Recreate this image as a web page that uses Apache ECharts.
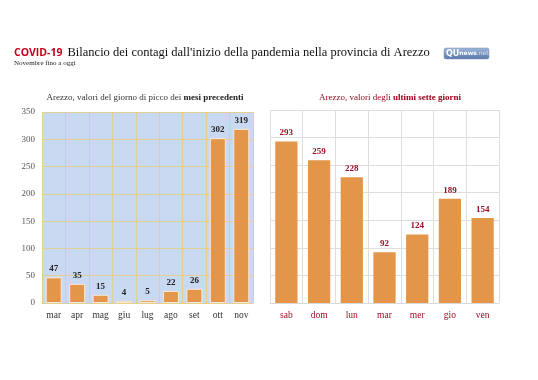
<!DOCTYPE html>
<html><head><meta charset="utf-8">
<script src="https://cdn.jsdelivr.net/npm/echarts@6/dist/echarts.min.js"></script>
<style>html,body{margin:0;padding:0;background:#fff}#c{width:538px;height:380px}</style>
</head><body><div id="c"></div>
<script>
const monthCats = ['mar','apr','mag','giu','lug','ago','set','ott','nov'];
const monthVals = [47,35,15,4,5,22,26,302,319];
const dayCats = ['sab','dom','lun','mar','mer','gio','ven'];
const dayVals = [293,259,228,92,124,189,154];
const yTicks = [0,50,100,150,200,250,300,350];

const serif = '"Liberation Serif","DejaVu Serif",serif';
const chart = echarts.init(document.getElementById('c'));
chart.setOption({
  animation:false,
  backgroundColor:'#ffffff',
  title:[
    {text:'{r|COVID-19} {b|Bilancio dei contagi dall\'inizio della pandemia nella provincia di Arezzo}',
     left:9, top:39,
     textStyle:{fontWeight:'normal', rich:{
       r:{fontFamily:'"Open Sans","Noto Sans",sans-serif',fontWeight:'bold',fontSize:10.5,color:'#c0001a'},
       b:{fontFamily:serif,fontSize:12.5,fontWeight:'normal',color:'#111'}}}},
    {text:'Novembre fino a oggi', left:9, top:55, textStyle:{fontFamily:serif,fontSize:7,fontWeight:'normal',color:'#222'}},
    {text:'Arezzo, valori del giorno di picco dei {b|mesi precedenti}', left:140, textAlign:'center', top:88,
     textStyle:{fontFamily:serif,fontSize:9,fontWeight:'normal',color:'#333',
       rich:{b:{fontFamily:serif,fontSize:9,fontWeight:'bold',color:'#222'}}}},
    {text:'Arezzo, valori degli {b|ultimi sette giorni}', left:385, textAlign:'center', top:88,
     textStyle:{fontFamily:serif,fontSize:9,fontWeight:'normal',color:'#8b1020',
       rich:{b:{fontFamily:serif,fontSize:9,fontWeight:'bold',color:'#a0001a'}}}}
  ],
  graphic:[
    {type:'rect', shape:{x:444,y:48,width:45,height:11,r:2},
     style:{fill:new echarts.graphic.LinearGradient(0,0,0,1,[{offset:0,color:'#9fb6da'},{offset:1,color:'#5877ab'}]),stroke:'#7d93b8',lineWidth:0.5}},
    {type:'text', x:446, y:49.5, z:10, style:{text:'{q|QU}{n|news}{t|.net}', rich:{
      q:{fontFamily:'"DejaVu Sans",sans-serif',fontWeight:'bold',fontSize:8,fill:'#ffffff'},
      n:{fontFamily:'"DejaVu Sans",sans-serif',fontWeight:'bold',fontSize:6,fill:'#ffffff'},
      t:{fontFamily:'"DejaVu Sans",sans-serif',fontSize:6,fill:'#d6e0ef'}}}}
  ],
  grid:[
    {left:42, top:112, width:211, height:191, show:true, backgroundColor:'#c9d9f1', borderWidth:0},
    {left:270, top:110, width:229, height:193, show:false}
  ],
  xAxis:[
    {type:'category', gridIndex:0, data:monthCats,
     axisLine:{show:true,lineStyle:{color:'#e4d08e'}}, axisTick:{show:false},
     splitLine:{show:true, lineStyle:{color:'#e4d08e',width:1}},
     axisLabel:{fontFamily:serif,fontSize:9.5,color:'#333',margin:7}},
    {type:'category', gridIndex:1, data:dayCats,
     axisLine:{show:true,lineStyle:{color:'#d9d9d9'}}, axisTick:{show:false},
     splitLine:{show:true, lineStyle:{color:'#dedede',width:1}},
     axisLabel:{fontFamily:serif,fontSize:9.5,color:'#9a0f25',margin:7}}
  ],
  yAxis:[
    {type:'value', gridIndex:0, min:yTicks[0], max:yTicks[yTicks.length-1], interval:50,
     axisLine:{show:false}, axisTick:{show:false},
     splitLine:{lineStyle:{color:'#e4d08e',width:1}},
     axisLabel:{fontFamily:serif,fontSize:9,color:'#555',margin:7}},
    {type:'value', gridIndex:1, min:yTicks[0], max:yTicks[yTicks.length-1], interval:50,
     axisLine:{show:false}, axisTick:{show:false},
     splitLine:{lineStyle:{color:'#dedede',width:1}},
     axisLabel:{show:false}}
  ],
  series:[
    {type:'bar', xAxisIndex:0, yAxisIndex:0, data:monthVals, barWidth:'68%',
     itemStyle:{color:'#e3954a', borderColor:'rgba(255,245,230,0.8)', borderWidth:1},
     label:{show:true, position:'top', distance:4, fontFamily:serif, fontSize:9, fontWeight:'bold', color:'#222'}},
    {type:'bar', xAxisIndex:1, yAxisIndex:1, data:dayVals, barWidth:'68%',
     itemStyle:{color:'#e3954a'},
     label:{show:true, position:'top', distance:4, fontFamily:serif, fontSize:9, fontWeight:'bold', color:'#9a0f25'}}
  ]
});
</script></body></html>
